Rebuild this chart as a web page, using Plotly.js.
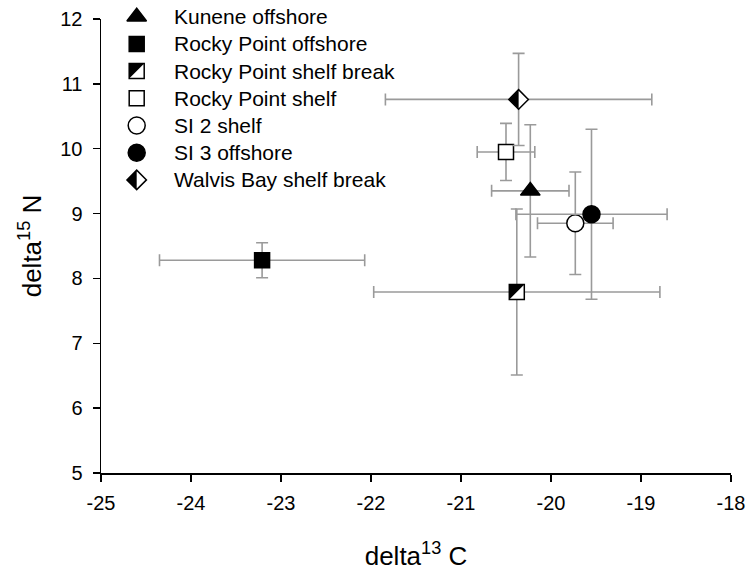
<!DOCTYPE html>
<html><head><meta charset="utf-8">
<script src="https://cdn.plot.ly/plotly-3.0.1.min.js"></script>
<style>html,body{margin:0;padding:0;background:#fff}#chart{width:748px;height:572px}</style>
</head><body><div id="chart"></div>
<script>
// ---- data ----
const groups    = ['Kunene offshore','Rocky Point offshore','Rocky Point shelf break','Rocky Point shelf','SI 2 shelf','SI 3 offshore','Walvis Bay shelf break'];
const d13C      = [-20.23, -23.21, -20.38, -20.50, -19.73, -19.55, -20.36];
const d13C_sd   = [0.43, 1.14, 1.59, 0.32, 0.42, 0.84, 1.48];
const d15N      = [9.35, 8.28, 7.79, 9.95, 8.85, 8.99, 10.76];
const d15N_sd   = [1.02, 0.27, 1.28, 0.44, 0.79, 1.31, 0.71];
const xTickVals = [-25, -24, -23, -22, -21, -20, -19, -18];
const xTickText = ['-25', '-24', '-23', '-22', '-21', '-20', '-19', '-18'];
const yTickVals = [5, 6, 7, 8, 9, 10, 11, 12];
const yTickText = ['5', '6', '7', '8', '9', '10', '11', '12'];

// ---- styles ----
const symbols  = ['triangle-up','square','square','square','circle','circle','diamond'];
const fills    = ['black','black','white','white','white','black','white'];
const sizes    = [17, 15, 15, 15, 17, 17, 15];
const halves   = [null, null, 'ul', null, null, null, 'left'];
const errColor = '#9a9a9a';
const FONT = 'Arial, "Liberation Sans", sans-serif';

// layout box in px
const W = 748, H = 572, ML = 101, MR = 17, PLOT_TOP = 19, MB = 99;
const PW = W - ML - MR;           // plot width
const PAPER_H = H - MB;           // paper area height (top margin 0)
const PH = PAPER_H - PLOT_TOP;    // main plot height
// legend placement in px (layout)
const LEG_X = 136.7, LEG_Y0 = 16.7, LEG_PITCH = 27.2, LEG_TEXT_GAP = 35;

function halfPath(kind, s) {
  if (kind === 'ul') { const h = s / 2; return `M ${-h},${-h} L ${-h},${h} L ${h},${h} Z`; }
  const d = 0.65 * s; return `M 0,${-d} L ${-d},0 L 0,${d} Z`;
}

const traces = [], shapes = [], annotations = [];
const legFx = (LEG_X - ML) / PW;
groups.forEach((g, i) => {
  const marker = {symbol: symbols[i], size: sizes[i], color: fills[i], line: {color: 'black', width: 1.5}};
  // data point with error bars
  traces.push({
    type: 'scatter', mode: 'markers', name: g,
    x: [d13C[i]], y: [d15N[i]],
    error_x: {type: 'data', array: [d13C_sd[i]], color: errColor, thickness: 1.6, width: 6},
    error_y: {type: 'data', array: [d15N_sd[i]], color: errColor, thickness: 1.6, width: 6},
    marker: marker, showlegend: false
  });
  // legend entry on a hidden helper subplot (units: fraction of the paper area)
  const legFy = (PAPER_H - (LEG_Y0 + LEG_PITCH * i)) / PAPER_H;
  traces.push({
    type: 'scatter', mode: 'markers', name: g, xaxis: 'x2', yaxis: 'y2',
    x: [legFx], y: [legFy], marker: marker, showlegend: false, cliponaxis: false, hoverinfo: 'skip'
  });
  annotations.push({
    xref: 'x2', yref: 'y2', x: legFx, y: legFy, xanchor: 'left', yanchor: 'middle',
    xshift: LEG_TEXT_GAP, text: g, showarrow: false, font: {size: 21, color: 'black'}
  });
  if (halves[i]) {
    shapes.push({
      type: 'path', xref: 'x', yref: 'y', xsizemode: 'pixel', ysizemode: 'pixel',
      xanchor: d13C[i], yanchor: d15N[i], path: halfPath(halves[i], sizes[i]),
      fillcolor: 'black', line: {width: 0}, layer: 'above'
    });
    shapes.push({
      type: 'path', xref: 'x2', yref: 'y2', xsizemode: 'pixel', ysizemode: 'pixel',
      xanchor: legFx, yanchor: legFy, path: halfPath(halves[i], sizes[i]),
      fillcolor: 'black', line: {width: 0}, layer: 'above'
    });
  }
});

const axisCommon = {
  showline: true, linecolor: 'black', linewidth: 1.5,
  ticks: 'outside', ticklen: 7, tickwidth: 1.5, tickcolor: 'black',
  showgrid: false, zeroline: false, tickfont: {size: 20, color: 'black'},
  tickmode: 'array', fixedrange: true
};

const layout = {
  width: W, height: H,
  margin: {l: ML, r: MR, t: 0, b: MB, autoexpand: false},
  paper_bgcolor: 'white', plot_bgcolor: 'rgba(0,0,0,0)',
  font: {family: FONT, color: 'black'},
  showlegend: false,
  xaxis: Object.assign({}, axisCommon, {range: [-25, -18], tickvals: xTickVals, ticktext: xTickText,
          ticklabelstandoff: 4, anchor: 'y',
          title: {text: 'delta<sup>13</sup> C', font: {size: 26}, standoff: 34}}),
  yaxis: Object.assign({}, axisCommon, {range: [5, 12], tickvals: yTickVals, ticktext: yTickText,
          ticklabelstandoff: 6, anchor: 'x', domain: [0, PH / PAPER_H],
          title: {text: 'delta<sup>15</sup> N', font: {size: 26}, standoff: 11}}),
  xaxis2: {anchor: 'y2', domain: [0, 1], range: [0, 1], visible: false, fixedrange: true},
  yaxis2: {anchor: 'x2', domain: [0, 1], range: [0, 1], visible: false, fixedrange: true},
  shapes: shapes,
  annotations: annotations
};

Plotly.newPlot('chart', traces, layout, {displayModeBar: false, staticPlot: true});
</script>
</body></html>
